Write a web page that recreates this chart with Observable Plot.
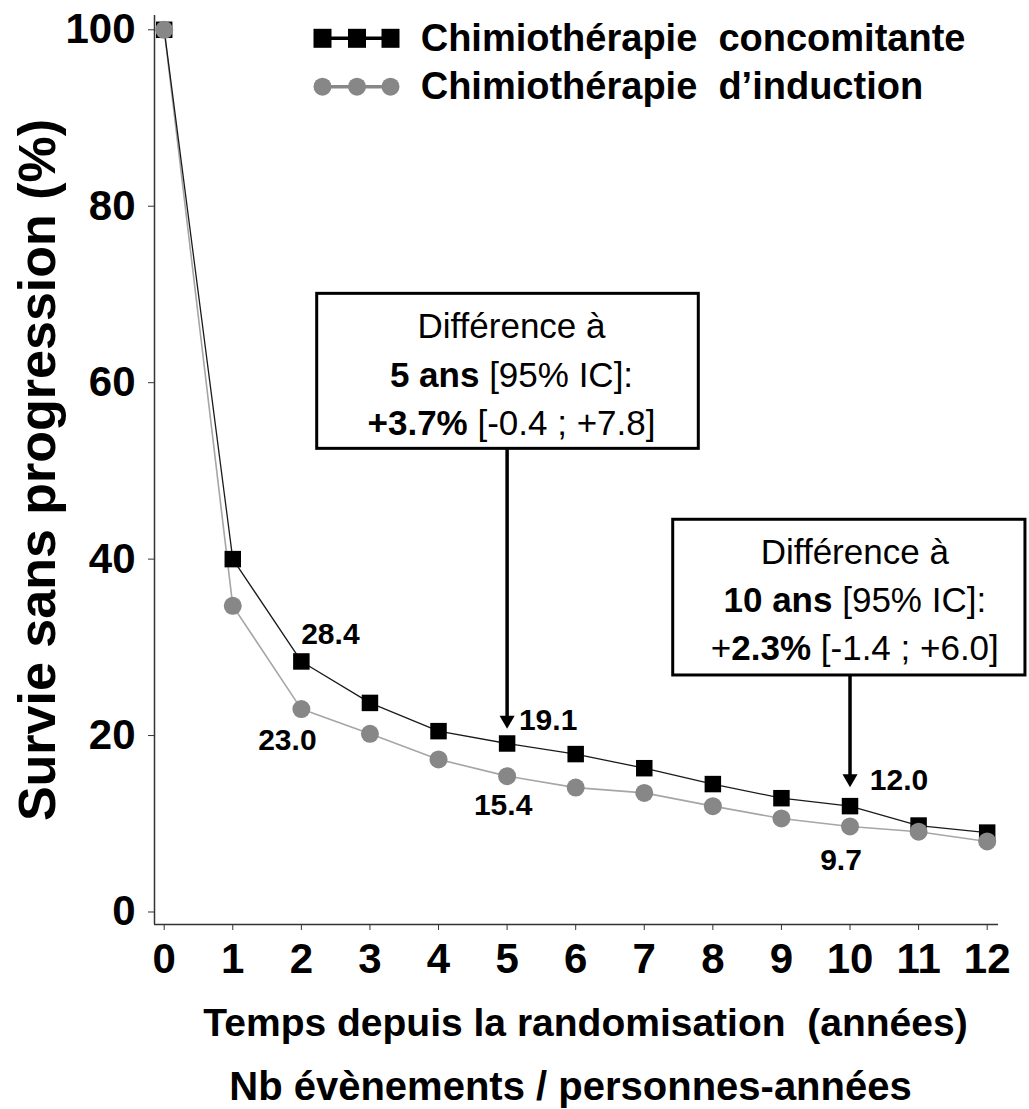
<!DOCTYPE html>
<html><head><meta charset="utf-8">
<script src="https://cdn.jsdelivr.net/npm/d3@7"></script>
<script src="https://cdn.jsdelivr.net/npm/@observablehq/plot@0.6"></script>
<style>
html,body{margin:0;padding:0;background:#fff;}
#chart{width:1029px;height:1109px;overflow:hidden;}
#chart svg text{white-space:pre;}
</style></head><body><div id="chart"></div>
<script>
// ---------- data ----------
const years = [0, 1, 2, 3, 4, 5, 6, 7, 8, 9, 10, 11, 12];
const concomitante = [100, 40.0, 28.4, 23.7, 20.5, 19.1, 17.9, 16.3, 14.5, 12.9, 12.0, 9.8, 9.0];
const induction = [100, 34.7, 23.0, 20.2, 17.3, 15.4, 14.1, 13.5, 12.0, 10.6, 9.7, 9.1, 8.0];
const seriesNames = ["Chimiothérapie  concomitante", "Chimiothérapie  d\u2019induction"];
const yTicks = [0, 20, 40, 60, 80, 100];
const xTicks = [0, 1, 2, 3, 4, 5, 6, 7, 8, 9, 10, 11, 12];
const labelledYears = [2, 5, 10];
const yLabel = "Survie sans progression (%)";
const xLabel = "Temps depuis la randomisation  (années)";
const caption = "Nb évènements / personnes-années";
const annotationYears = [5, 10];
const annotationLines = [
  [[["Différence à", false]], [["5 ans", true], [" [95% IC]:", false]], [["+3.7%", true], [" [-0.4 ; +7.8]", false]]],
  [[["Différence à", false]], [["10 ans", true], [" [95% IC]:", false]], [["+", false], ["2.3%", true], [" [-1.4 ; +6.0]", false]]]
];

// ---------- layout / style ----------
const W = 1029, H = 1109;
const M = {left: 154, right: 31, top: 15, bottom: 185};
const xDomain = [-0.1414, 12.165];
const yDomain = [-1.417, 101.62];
const FONT = "'Liberation Sans', Arial, Helvetica, sans-serif";
const boxLayout = [
  {x1: 2.231, x2: 7.795, yTop: 70.07, yBottom: 52.5, tip: 20.77, textDx: 4, firstBase: 45, lineGap: 48.3},
  {x1: 7.422, x2: 12.558, yTop: 44.46, yBottom: 26.81, tip: 14.15, textDx: 6, firstBase: 44.5, lineGap: 48}
];
const labelOffsets = {
  conc: {2: [29, -39], 5: [41, -35], 10: [49, -37.6]},
  ind: {2: [-14, 19.4], 5: [-4, 17.4], 10: [-9, 22]}
};
const concColor = "#000000", indColor = "#878787";

const concData = years.map((yr, i) => ({year: yr, value: concomitante[i]}));
const indData = years.map((yr, i) => ({year: yr, value: induction[i]}));

const labelMarks = [];
for (const [key, data] of [["conc", concData], ["ind", indData]]) {
  for (const yr of labelledYears) {
    const d = data.filter(p => p.year === yr);
    const [dx, dy] = labelOffsets[key][yr];
    labelMarks.push(Plot.text(d, {x: "year", y: "value", text: p => p.value.toFixed(1),
      dx, dy, lineAnchor: "top", textAnchor: "middle", fontSize: 30, fontWeight: "bold", fill: "black"}));
  }
}

const annotationMarks = [];
annotationYears.forEach((yr, k) => {
  const L = boxLayout[k];
  annotationMarks.push(Plot.rect([L], {x1: "x1", x2: "x2", y1: "yBottom", y2: "yTop", fill: "white", stroke: "black", strokeWidth: 3}));
  annotationMarks.push(Plot.ruleX([L], {x: () => yr, y1: "yBottom", y2: "tip", stroke: "black", strokeWidth: 3.5, insetBottom: 8}));
  annotationMarks.push(Plot.dot([L], {x: () => yr, y: "tip", symbol: "triangle", rotate: 180, r: 5.6, dy: -8.66, fill: "black", stroke: "none"}));
});

// mixed-weight annotation text
const annotationText = (index, {x, y}) => {
  const g = d3.create("svg:g").attr("font-family", FONT).attr("fill", "black");
  annotationYears.forEach((yr, k) => {
    const L = boxLayout[k];
    const cx = (x(L.x1) + x(L.x2)) / 2 + L.textDx;
    const top = y(L.yTop);
    annotationLines[k].forEach((segs, j) => {
      const t = g.append("text").attr("x", cx).attr("y", top + L.firstBase + j * L.lineGap)
        .attr("text-anchor", "middle").attr("font-size", 35).style("white-space", "pre");
      segs.forEach(([s, b]) => t.append("tspan").attr("font-weight", b ? "bold" : "normal").text(s));
    });
  });
  return g.node();
};

// legend drawn inside the frame
const legend = () => {
  const g = d3.create("svg:g").attr("font-family", FONT).attr("text-anchor", "start");
  const rows = [
    {cy: 38.3, base: 51, kind: "square", color: concColor, line: concColor, name: seriesNames[0]},
    {cy: 86.7, base: 99.3, kind: "circle", color: indColor, line: indColor, name: seriesNames[1]}
  ];
  const xs = [322.5, 357, 390.5];
  for (const r of rows) {
    g.append("line").attr("x1", xs[0]).attr("x2", xs[2]).attr("y1", r.cy).attr("y2", r.cy)
      .attr("stroke", r.line).attr("stroke-width", 3.5);
    for (const cx of xs) {
      if (r.kind === "square") g.append("rect").attr("x", cx - 9).attr("y", r.cy - 9.5).attr("width", 18).attr("height", 19).attr("fill", r.color);
      else g.append("circle").attr("cx", cx).attr("cy", r.cy).attr("r", 9).attr("fill", r.color);
    }
    g.append("text").attr("x", 420.7).attr("y", r.base).attr("font-size", 38).attr("font-weight", "bold")
      .attr("text-anchor", "start").attr("fill", "black").style("white-space", "pre").text(r.name);
  }
  return g.node();
};

const plot = Plot.plot({
  width: W, height: H,
  marginLeft: M.left, marginRight: M.right, marginTop: M.top, marginBottom: M.bottom,
  x: {domain: xDomain},
  y: {domain: yDomain},
  style: {fontFamily: FONT, background: "white", color: "black", overflow: "visible"},
  marks: [
    Plot.ruleX([xDomain[0]], {stroke: "#333", strokeWidth: 1.5}),
    Plot.ruleY([yDomain[0]], {stroke: "#333", strokeWidth: 1.5}),
    Plot.axisY({ticks: yTicks, tickSize: 6, tickPadding: 13, fontSize: 42, fontWeight: "bold", label: null, stroke: "#333", tickFormat: d => d}),
    Plot.axisX({ticks: xTicks, tickSize: 6, tickPadding: 13, fontSize: 42, fontWeight: "bold", label: null, stroke: "#333", tickFormat: d => d}),
    Plot.text([yLabel], {text: d => d, frameAnchor: "left", dx: -116, rotate: -90, textAnchor: "middle", lineAnchor: "middle", fontSize: 52, fontWeight: "bold"}),
    Plot.text([xLabel], {text: d => d, frameAnchor: "bottom", dx: 9, dy: 83.5, textAnchor: "middle", lineAnchor: "top", fontSize: 39, fontWeight: "bold"}),
    Plot.text([caption], {text: d => d, frameAnchor: "bottom", dx: -6, dy: 147, textAnchor: "middle", lineAnchor: "top", fontSize: 40, fontWeight: "bold"}),
    Plot.line(indData, {x: "year", y: "value", stroke: "#a6a6a6", strokeWidth: 1.6}),
    Plot.line(concData, {x: "year", y: "value", stroke: "#1a1a1a", strokeWidth: 1.3}),
    Plot.dot(concData, {x: "year", y: "value", symbol: "square", r: 9.3, fill: concColor, stroke: "none"}),
    Plot.dot(indData, {x: "year", y: "value", symbol: "circle", r: 9, fill: indColor, stroke: "none"}),
    ...labelMarks,
    ...annotationMarks,
    annotationText,
    legend
  ]
});
d3.select(plot).selectAll("text").style("white-space", "pre");
document.getElementById("chart").appendChild(plot);
</script>
</body></html>
